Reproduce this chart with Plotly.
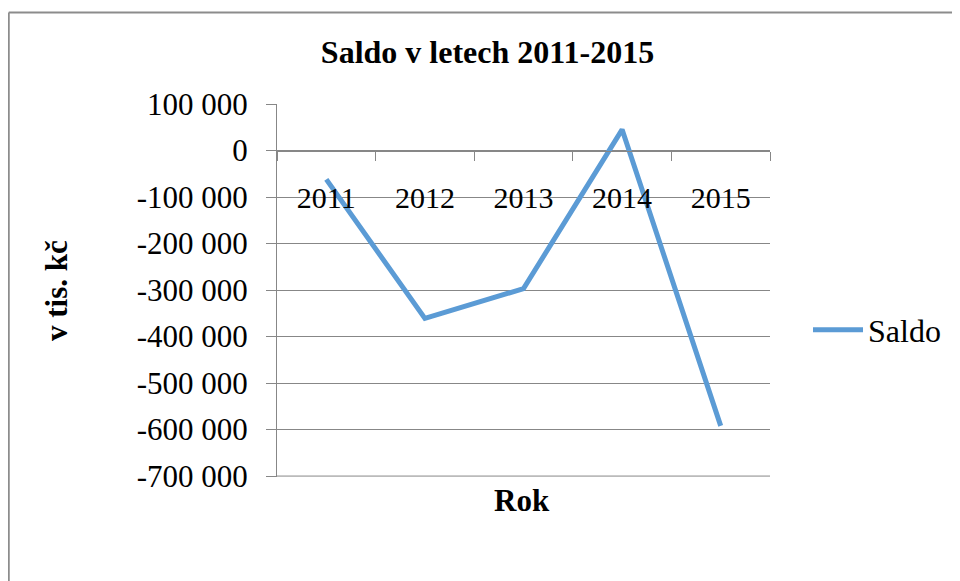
import plotly.graph_objects as go

years = ["2011", "2012", "2013", "2014", "2015"]
saldo = [-62000, -361000, -297000, 45000, -592000]
y_tick_vals = [100000, 0, -100000, -200000, -300000, -400000, -500000, -600000, -700000]
y_tick_text = ["100 000", "0", "-100 000", "-200 000", "-300 000", "-400 000",
               "-500 000", "-600 000", "-700 000"]
y_min, y_max = -702000, 100000

FONT = "Liberation Serif, Times New Roman, serif"
GRID = "#878787"
LINE = "#5B9BD5"

# page offset of the figure (browser body margin)
OFF = 8
PL, PR, PT, PB = 277, 770, 104, 477  # plot area in page pixels


def px(x):
    return (x - PL) / (PR - PL)


def py(y):
    return (PB - y) / (PB - PT)


fig = go.Figure()
fig.add_trace(go.Scatter(
    x=years, y=saldo, mode="lines", name="Saldo",
    line=dict(color=LINE, width=5),
))

fig.update_layout(
    width=960, height=581,
    margin=dict(l=PL - OFF, r=960 - (PR - OFF), t=PT - OFF, b=581 - (PB - OFF)),
    paper_bgcolor="white", plot_bgcolor="white",
    font=dict(family=FONT, size=31, color="black"),
    title=dict(text="<b>Saldo v letech 2011-2015</b>", x=(487.5 - OFF) / 960,
               xanchor="center", y=1 - (52 - OFF) / 581, yanchor="middle",
               font=dict(family=FONT, size=32, color="black")),
    showlegend=True,
    legend=dict(x=px(808), y=py(330), xanchor="left", yanchor="middle",
                font=dict(family=FONT, size=32, color="black"),
                bgcolor="rgba(0,0,0,0)", itemwidth=50),
    xaxis=dict(
        type="category", range=[-0.5, 4.5],
        anchor="free", position=(0 - y_min) / (y_max - y_min), automargin=False,
        showline=True, linecolor=GRID, linewidth=1,
        ticks="outside", ticklen=9, tickcolor=GRID, tickwidth=1,
        tickson="boundaries", showgrid=False,
        ticklabelstandoff=20,
        tickfont=dict(family=FONT, size=30, color="black"),
    ),
    yaxis=dict(
        range=[y_min, y_max], automargin=False,
        tickvals=y_tick_vals, ticktext=y_tick_text,
        showgrid=True, gridcolor=GRID, gridwidth=1,
        zeroline=False,
        showline=True, linecolor=GRID, linewidth=1,
        ticks="outside", ticklen=10, tickcolor=GRID, tickwidth=1,
        tickfont=dict(family=FONT, size=31, color="black"),
        ticklabelstandoff=12,
    ),
    annotations=[
        dict(text="<b>Rok</b>", xref="paper", yref="paper",
             x=px(522), y=py(500), xanchor="center", yanchor="middle",
             showarrow=False, font=dict(family=FONT, size=31, color="black")),
        dict(text="<b>v tis. kč</b>", xref="paper", yref="paper",
             x=px(56), y=py(291), xanchor="center", yanchor="middle",
             textangle=-90, showarrow=False,
             font=dict(family=FONT, size=31, color="black")),
    ],
    shapes=[
        # bottom gridline (at the lowest tick value), hidden by plotly at the edge
        dict(type="line", xref="paper", yref="y", layer="below",
             x0=0, x1=1, y0=y_tick_vals[-1], y1=y_tick_vals[-1],
             line=dict(color=GRID, width=1)),
        dict(type="line", xref="paper", yref="paper",
             x0=px(8.75), x1=px(990),
             y0=py(12.5), y1=py(12.5),
             line=dict(color="#8c8c8c", width=2)),
        dict(type="line", xref="paper", yref="paper",
             x0=px(8.75), x1=px(8.75),
             y0=py(12.5), y1=py(600),
             line=dict(color="#8c8c8c", width=2)),
    ],
)

fig.write_html("out.html")
